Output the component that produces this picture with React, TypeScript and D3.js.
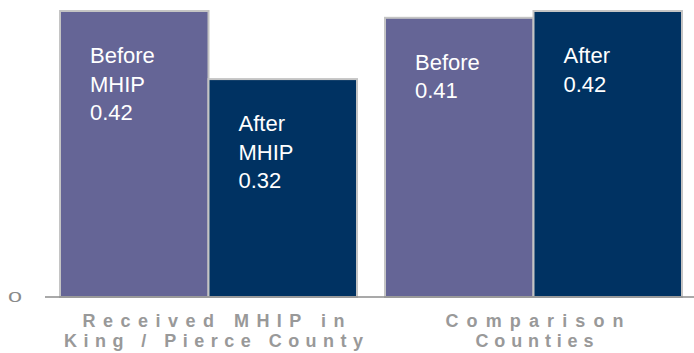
import React from "react";
import * as d3 from "d3";

const groups = ["Received MHIP in King / Pierce County", "Comparison Counties"];
const groupLines = [["Received MHIP in", "King / Pierce County"], ["Comparison", "Counties"]];
const series = ["before", "after"];
const beforeValues = [0.42, 0.41];
const afterValues = [0.32, 0.42];
const beforeLabels = [["Before", "MHIP"], ["Before"]];
const afterLabels = [["After", "MHIP"], ["After"]];
const yTicks = [0];

const W = 694;
const H = 353;
const baseY = 297;
// spread widths for the letter-spaced category captions
const captionWidths = [[262, 299], [178, 118]];

export default function App() {
  const x0 = d3.scaleBand<string>().domain(groups).range([60, 682]).paddingInner(28 / 325);
  const x1 = d3.scaleBand<string>().domain(series).range([0, x0.bandwidth()]);
  const y = d3.scaleLinear().domain([0, 0.42]).range([baseY, 11]);
  const colors: Record<string, string> = { before: "#656596", after: "#003262" };

  const bars = groups.flatMap((g, gi) =>
    series.map((s) => {
      const v = s === "before" ? beforeValues[gi] : afterValues[gi];
      const lines = [...(s === "before" ? beforeLabels[gi] : afterLabels[gi]), v.toFixed(2)];
      return { g, s, v, lines, x: (x0(g) ?? 0) + (x1(s) ?? 0), w: x1.bandwidth() };
    })
  );

  return (
    <svg width={W} height={H} style={{ position: "absolute", left: 0, top: 0, background: "#fff" }}>
      {bars.map((b) => (
        <g key={b.g + b.s}>
          <rect
            x={b.x}
            y={y(b.v)}
            width={b.w}
            height={baseY - y(b.v)}
            fill={colors[b.s]}
            stroke="#c4c4c4"
            strokeWidth={2}
          />
          <text
            x={b.x + 30}
            y={y(b.v) + 52}
            fill="#ffffff"
            fontFamily="Liberation Sans, Arial, sans-serif"
            fontSize={22}
          >
            {b.lines.map((l, i) => (
              <tspan key={i} x={b.x + 30} dy={i === 0 ? 0 : 28.5}>
                {l}
              </tspan>
            ))}
          </text>
        </g>
      ))}
      <line x1={45} x2={W} y1={y(0)} y2={y(0)} stroke="#8c8c8c" strokeWidth={1.5} />
      {yTicks.map((t) => (
        <text
          key={t}
          x={8}
          y={y(t) + 5}
          fill="#8a8a8a"
          fontFamily="Liberation Sans, Arial, sans-serif"
          fontSize={15}
          textLength={14}
          lengthAdjust="spacingAndGlyphs"
        >
          {t}
        </text>
      ))}
      {groups.map((g, gi) =>
        groupLines[gi].map((l, i) => (
          <text
            key={g + i}
            x={(x0(g) ?? 0) + x0.bandwidth() / 2 + (gi === 0 ? 5 : 1)}
            y={327 + i * 20}
            textAnchor="middle"
            fill="#999999"
            fontFamily="Liberation Sans, Arial, sans-serif"
            fontWeight="bold"
            fontSize={18}
            textLength={captionWidths[gi][i]}
            lengthAdjust="spacing"
          >
            {l}
          </text>
        ))
      )}
    </svg>
  );
}
